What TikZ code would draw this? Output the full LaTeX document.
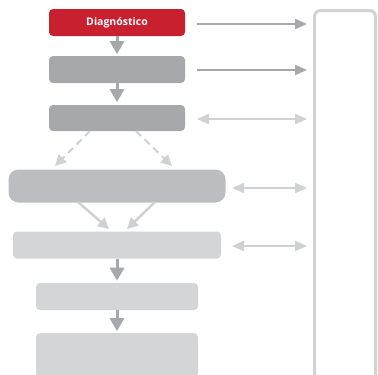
\documentclass[tikz,border=0pt]{standalone}
\usepackage{fontspec}
\setmainfont{Open Sans}
\usetikzlibrary{arrows.meta}
\definecolor{cred}{HTML}{C8202F}
\definecolor{cdark}{HTML}{A7A8AC}
\definecolor{cmid}{HTML}{BCBDC0}
\definecolor{clight}{HTML}{D4D5D6}
\definecolor{carrl}{HTML}{D0D1D3}
\definecolor{cpanel}{HTML}{D3D3D4}
\tikzset{
  box/.style={rectangle, rounded corners=4pt, draw=none, inner sep=0pt},
  bigtip/.style={-{Triangle[length=12pt,width=10pt]}},
  dbltip/.style={{Triangle[length=12pt,width=10pt]}-{Triangle[length=12pt,width=10pt]}},
  harrow/.style={line width=2pt, shorten >=6pt},
  vdark/.style={cdark, line width=3pt, -{Triangle[length=13pt,width=14pt]}},
}
\begin{document}
\begin{tikzpicture}[x=1pt,y=-1pt]
\useasboundingbox (0,0) rectangle (378,375);
% boxes
\node[box, fill=cred, minimum width=136pt, minimum height=27pt, text=white, font=\bfseries\fontsize{10.5}{12}\selectfont] (b1) at (117,22.5) {Diagnóstico};
\node[box, fill=cdark, minimum width=136pt, minimum height=27pt] (b2) at (117,69.5) {};
\node[box, fill=cdark, minimum width=136pt, minimum height=26pt] (b3) at (117,118) {};
\node[box, fill=cmid, rounded corners=10pt, minimum width=217pt, minimum height=33pt] (b4) at (117,186) {};
\node[box, fill=clight, minimum width=208pt, minimum height=27pt] (b5) at (117,245) {};
\node[box, fill=clight, minimum width=162pt, minimum height=27pt] (b6) at (117,296.5) {};
\node[box, fill=clight, minimum width=162pt, minimum height=44pt, anchor=north] (b7) at (117,333) {};
% panel
\draw[cpanel, line width=3pt, rounded corners=6pt] (314.5,376) -- (314.5,10.5) -- (375.5,10.5) -- (375.5,376);
\coordinate (pa) at (313,24);
\coordinate (pb) at (313,70);
\coordinate (pc) at (313,119);
\coordinate (pd) at (313,188);
\coordinate (pe) at (313,246);
% vertical arrows
\draw[vdark] (b1.south) -- ++(0,18);
\draw[vdark] (b2.south) -- ++(0,19);
\draw[vdark] (b5.south) -- ++(0,22);
\draw[vdark] (b6.south) -- ++(0,21);
% dashed
\coordinate (d1) at (90,131);
\coordinate (d2) at (136,131);
\coordinate (d3) at (55,166);
\coordinate (d4) at (172,166);
\draw[carrl, line width=2pt, dash pattern=on 7pt off 5pt, -{Triangle[length=11pt,width=11pt]}] (d1) -- (d3);
\draw[carrl, line width=2pt, dash pattern=on 7pt off 5pt, -{Triangle[length=11pt,width=11pt]}] (d2) -- (d4);
% b4 to b5
\coordinate (e1) at (78,202);
\coordinate (e2) at (155,202);
\coordinate (e3) at (109,229);
\coordinate (e4) at (127,229);
\draw[carrl, line width=2.5pt, -{Triangle[length=11pt,width=11pt]}] (e1) -- (e3);
\draw[carrl, line width=2.5pt, -{Triangle[length=11pt,width=11pt]}] (e2) -- (e4);
% horizontal arrows
\draw[cdark, harrow, bigtip] (197,24) -- (pa);
\draw[cdark, harrow, bigtip] (197,70) -- (pb);
\draw[carrl, harrow, dbltip] (197,119) -- (pc);
\draw[carrl, harrow, dbltip] (232,188) -- (pd);
\draw[carrl, harrow, dbltip] (232,246) -- (pe);
\end{tikzpicture}
\end{document}
